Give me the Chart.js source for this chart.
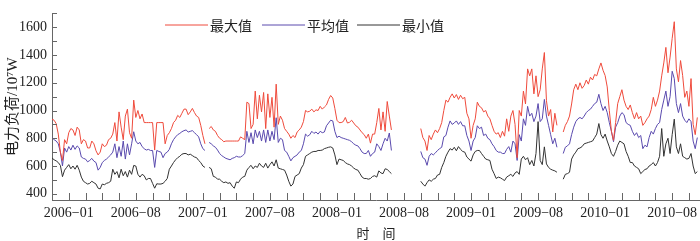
<!DOCTYPE html>
<html>
<head>
<meta charset="utf-8">
<script src="https://cdn.jsdelivr.net/npm/chart.js@4.4.0/dist/chart.umd.min.js"></script>
<style>
  html, body { margin: 0; padding: 0; background: #fff; }
  #wrap { position: relative; width: 700px; height: 241px; }
</style>
</head>
<body>
<div id="wrap"><canvas id="load"></canvas></div>
<script>
// x tick labels, one per 4 minor ticks
const tickLabels = ['2006−01', '2006−08', '2007−01', '2007−08', '2008−01',
                    '2008−08', '2009−01', '2009−08', '2010−01', '2010−08'];
const seriesNames = ['最大值', '平均值', '最小值'];

// load (10^7 W), 8 samples per minor tick, null = no data
const maxLoad = [
  938, 930, 905, 830, 700, 640, 790, 760, 840, 870, 860, 820, 880, 860, 760, 790, 780, 730, 730, 780,
  760, 710, 680, 700, 760, 740, 750, 790, 800, 830, 913, 780, 990, 880, 790, 960, 1010, 840, 800, 1075,
  950, 1000, 940, 975, 913, 913, 913, 913, 913, 715, 913, 913, 913, 913, 760, 820, 840, 870, 913, 930,
  965, 950, 980, 1010, 1010, 970, 990, 1015, 985, 960, 950, 893, 820, 760, null, 870, 885, 860, 850, 820,
  800, 790, 775, 780, 780, 780, 780, 780, 780, 780, 810, 800, 790, 1060, 1050, 870, 900, 1140, 940, 1110,
  990, 1130, 870, 1120, 950, 1095, 880, 1190, 900, 960, 930, 870, 850, 830, 800, 820, 805, 845, 860, 880,
  920, 1000, 990, 995, 1010, 990, 1005, 1000, 1030, 1010, 1025, 1040, 1080, 1108, 1090, 1015, 930, 913, 913, 920,
  950, 910, 915, 930, 910, 890, 880, 860, 840, 826, 800, 830, 765, 830, 830, 913, 1015, 860, 990, 850,
  1065, 960, 860, null, null, null, null, null, null, null, null, null, null, null, null, null, 870, 805, 780, 712,
  820, 790, 830, 860, 840, 870, 913, 1000, 1075, 1060, 1095, 1120, 1090, 1115, 1080, 1110, 1085, 1095, 980, 940,
  800, 893, 940, 1060, 1030, 1020, 990, 1000, 960, 940, 893, 850, 830, 840, 805, 850, 815, 940, 850, 960,
  1000, 900, 660, 1000, 960, 1140, 1047, 1300, 1250, 1300, 1120, 1250, 1100, 1150, 1300, 1418, 1070, 960, 1007, 845,
  980, 893, null, null, 845, 893, 920, 960, 1047, 1150, 1190, 1150, 1200, 1160, 1180, 1220, 1190, 1240, 1220, 1260,
  1250, 1300, 1343, 1290, 1252, 1170, 1000, 850, 785, 913, 1050, 1100, 1150, 1075, 1030, 1007, 1040, 985, 940, 985,
  940, 960, 893, 913, 940, 960, 1007, 1095, 1030, 1075, 1140, 1250, 1343, 1455, 1272, 1385, 1520, 1640, 1300, 1207,
  1360, 1252, 1095, 1140, 1030, 1230, 900, 826, 950
];
const avgLoad = [
  805, 790, 780, 760, 700, 600, 730, 700, 740, 715, 750, 720, 745, 730, 665, 655, 650, 630, 640, 655,
  635, 625, 570, 590, 625, 640, 650, 665, 680, 700, 760, 660, 740, 670, 780, 650, 760, 680, 760, 847,
  780, 760, 770, 740, 725, 715, 720, 712, 712, 590, 712, 705, 700, 660, 690, 700, 720, 760, 790, 810,
  826, 835, 847, 855, 860, 845, 850, 855, 840, 826, 810, 760, 725, 712, null, 770, 760, 745, 735, 715,
  690, 675, 665, 655, 650, 645, 655, 660, 670, 665, 665, 675, 690, 850, 770, 840, 760, 860, 805, 850,
  780, 860, 770, 860, 780, 850, 790, 948, 770, 800, 790, 712, 700, 670, 637, 660, 670, 680, 700, 712,
  760, 830, 815, 825, 850, 835, 845, 830, 850, 840, 845, 890, 910, 930, 925, 850, 805, 815, 805, 800,
  795, 790, 785, 775, 760, 750, 745, 725, 700, 690, 690, 712, 670, 690, 700, 760, 740, 712, 760, 800,
  780, 838, 712, null, null, null, null, null, null, null, null, null, null, null, null, null, 705, 660, 650, 605,
  670, 690, 680, 695, 712, 725, 735, 810, 820, 880, 925, 900, 910, 925, 900, 920, 890, 890, 820, 780,
  712, 780, 805, 890, 870, 880, 820, 830, 800, 790, 760, 740, 712, 700, 700, 690, 690, 720, 740, 700,
  780, 760, 640, 826, 780, 940, 893, 1030, 960, 980, 920, 960, 1050, 920, 940, 1080, 960, 893, 826, 760,
  800, 735, null, null, 690, 735, 745, 760, 826, 880, 920, 940, 950, 940, 960, 985, 1000, 1010, 1030, 1050,
  1060, 1117, 1050, 1000, 1030, 985, 913, 850, 775, 880, 913, 960, 985, 970, 913, 900, 893, 850, 820, 840,
  805, 820, 725, 750, 738, 805, 850, 830, 870, 900, 913, 1007, 1075, 1140, 1030, 1100, 1283, 1230, 1050, 985,
  1050, 960, 930, 913, 940, 920, 780, 725, 805
];
const minLoad = [
  658, 645, 637, 625, 604, 523, 570, 590, 610, 580, 600, 577, 605, 570, 520, 490, 480, 470, 475, 490,
  480, 470, 440, 435, 470, 465, 475, 480, 490, 577, 540, 560, 515, 577, 530, 560, 520, 570, 540, 604,
  600, 540, 520, 540, 530, 500, 510, 510, 475, 440, 472, 470, 470, 475, 490, 510, 577, 600, 625, 645,
  660, 670, 685, 690, 690, 680, 685, 675, 665, 660, 640, 625, 600, 590, null, 590, 580, 525, 520, 505,
  505, 490, 480, 485, 475, 480, 455, 440, 485, 480, 505, 520, 525, 570, 590, 605, 580, 600, 590, 620,
  600, 590, 620, 585, 610, 630, 600, 645, 585, 580, 575, 570, 535, 490, 455, 470, 525, 535, 545, 585,
  610, 670, 680, 690, 700, 705, 705, 712, 712, 715, 725, 730, 735, 738, 730, 680, 610, 650, 645, 640,
  625, 615, 610, 600, 585, 575, 570, 545, 520, 510, 510, 505, 510, 525, 530, 520, 565, 550, 545, 580,
  575, 560, 545, null, null, null, null, null, null, null, null, null, null, null, null, null, 490, 470, 455, 480,
  500, 490, 505, 510, 535, 540, 590, 625, 670, 700, 725, 715, 735, 710, 740, 720, 705, 700, 665, 650,
  635, 680, 705, 712, 712, 690, 670, 650, 645, 640, 577, 545, 510, 520, 515, 505, 495, 520, 530, 540,
  525, 550, 560, 540, 650, 670, 645, 660, 610, 640, 600, 690, 920, 640, 610, 738, 615, 590, 577, 570,
  565, 555, null, null, 505, 540, 545, 555, 650, 680, 700, 725, 730, 740, 760, 765, 770, 775, 780, 805,
  830, 906, 826, 800, 830, 780, 738, 690, 670, 705, 750, 780, 770, 760, 705, 670, 625, 625, 600, 590,
  580, 545, 560, 575, 580, 600, 610, 625, 600, 625, 670, 870, 670, 760, 800, 690, 826, 938, 738, 690,
  760, 670, 660, 650, 655, 690, 600, 545, 560
];

const colors = ['#ef4b3c', '#5a4aae', '#333333'];
const serif = '"Liberation Serif", "Noto Sans CJK SC", serif';

// 8 samples per minor tick, starting one minor tick before 2006-01
function toPoints(values) {
  return values.map((v, i) => ({ x: -1 + i * 0.125, y: v }));
}

// ticks point into the plot, and the legend sits inside it
const innerTicks = {
  id: 'innerTicks',
  afterDraw(chart) {
    const ctx = chart.ctx;
    const xs = chart.scales.x;
    const ys = chart.scales.y;
    ctx.save();
    ctx.strokeStyle = '#666';
    ctx.lineWidth = 1;
    ctx.beginPath();
    xs.ticks.forEach(t => {
      const px = Math.round(xs.getPixelForValue(t.value)) + 0.5;
      ctx.moveTo(px, xs.top);
      ctx.lineTo(px, xs.top - 7);
    });
    ys.ticks.forEach(t => {
      if (t.value % 100 !== 0) return;
      const py = Math.round(ys.getPixelForValue(t.value)) + 0.5;
      ctx.moveTo(ys.right, py);
      ctx.lineTo(ys.right + 5, py);
    });
    ctx.stroke();

    const legendX = [165, 262, 357];
    const legendY = 25;
    ctx.font = '14px "Noto Sans CJK SC", sans-serif';
    ctx.textBaseline = 'middle';
    ctx.fillStyle = '#222';
    chart.data.datasets.forEach((ds, i) => {
      ctx.strokeStyle = ds.borderColor;
      ctx.beginPath();
      ctx.moveTo(legendX[i], legendY);
      ctx.lineTo(legendX[i] + 43, legendY);
      ctx.stroke();
      ctx.fillText(ds.label, legendX[i] + 45, legendY + 0.5);
    });
    ctx.restore();
  }
};

const datasets = [maxLoad, avgLoad, minLoad].map((values, i) => ({
  label: seriesNames[i],
  data: toPoints(values),
  borderColor: colors[i],
  borderWidth: 1,
  pointRadius: 0,
  tension: 0,
  spanGaps: false
}));

new Chart(document.getElementById('load'), {
  type: 'line',
  data: { datasets: datasets },
  options: {
    responsive: true,
    maintainAspectRatio: false,
    animation: false,
    devicePixelRatio: 1,
    layout: { padding: 0 },
    plugins: { legend: { display: false }, tooltip: { enabled: false } },
    scales: {
      x: {
        type: 'linear',
        min: -1,
        max: 37.66,
        afterFit: s => { s.height = 41; },
        grid: { display: false, drawTicks: false },
        border: { display: true, color: '#666', width: 1 },
        ticks: {
          stepSize: 1,
          includeBounds: false,
          autoSkip: false,
          maxRotation: 0,
          padding: 5,
          color: '#222',
          font: { family: serif, size: 14 },
          callback: v => (v >= 0 && v % 4 === 0) ? tickLabels[v / 4] : ''
        },
        title: {
          display: true,
          text: '时\u3000间',
          color: '#222',
          font: { family: '"Noto Sans CJK SC", sans-serif', size: 13 },
          padding: { top: 0, bottom: 0 }
        }
      },
      y: {
        min: 355,
        max: 1700,
        afterFit: s => { s.width = 52; },
        grid: { display: false, drawTicks: false },
        border: { display: true, color: '#666', width: 1 },
        ticks: {
          stepSize: 100,
          includeBounds: false,
          autoSkip: false,
          padding: 5,
          color: '#222',
          font: { family: serif, size: 14 },
          callback: v => v % 200 === 0 ? v : ''
        },
        title: {
          display: true,
          text: '电力负荷/10⁷W',
          color: '#222',
          font: { family: serif, size: 15 },
          padding: { top: 4, bottom: 0 }
        }
      }
    }
  },
  plugins: [innerTicks]
});
</script>
</body>
</html>
